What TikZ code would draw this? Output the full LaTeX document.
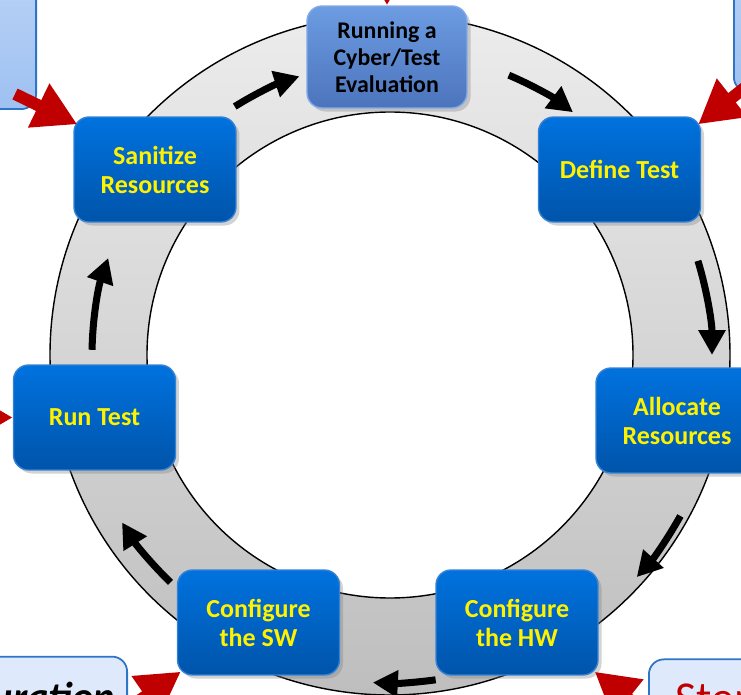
\documentclass[tikz,border=0pt]{standalone}
\usepackage{fontspec}
\setmainfont{Carlito}
\usetikzlibrary{arrows.meta,shadows}
\definecolor{boxBlue}{RGB}{0,114,222}
\definecolor{boxBlueDark}{RGB}{0,84,170}
\definecolor{boxEdge}{RGB}{52,130,214}
\definecolor{topBlue}{RGB}{108,156,226}
\definecolor{topBlueDark}{RGB}{76,116,188}
\definecolor{topEdge}{RGB}{130,170,232}
\definecolor{ringLight}{RGB}{236,236,236}
\definecolor{ringDark}{RGB}{190,190,190}
\definecolor{arrowRed}{RGB}{192,0,0}
\definecolor{paleBlue}{RGB}{222,233,251}
\definecolor{skyBlue}{RGB}{204,221,249}
\definecolor{skyBlueDark}{RGB}{158,193,241}
\definecolor{paleEdge}{RGB}{46,117,200}

\begin{document}
\begin{tikzpicture}[x=0.02cm,y=0.02cm,
  stagebox/.style={draw=boxEdge,line width=0.8pt,rounded corners=0.3cm,top color=boxBlue,bottom color=boxBlueDark,
    minimum width=3.24cm,minimum height=2.1cm,align=center,text=yellow,font=\bfseries\fontsize{14.8}{16.5}\selectfont,
    drop shadow={opacity=0.35,shadow xshift=2pt,shadow yshift=-2pt}},
  sidebox/.style={draw=paleEdge,line width=1pt,rounded corners=0.3cm},
  cyclearrow/.style={line width=4pt,-{Triangle[length=0.5cm,width=0.52cm]}},
  feedarrow/.style={draw=arrowRed,line width=0.24cm,-{Triangle[length=0.86cm,width=0.92cm]}}]

\useasboundingbox (0,0) rectangle (741,694);

\def\rOuter{340}
\def\rInner{243}
\coordinate (ring) at (390,339);

% ring:
\path[draw,line width=0.8pt,top color=ringLight,bottom color=ringDark,even odd rule] (ring) circle (\rOuter) (ring) circle (\rInner);

% arrows round the ring:
\draw[cyclearrow] ([shift={(179:298)}]ring) arc (179:161:298);
\draw[cyclearrow] ([shift={(122:293)}]ring) arc (122:108:293);
\draw[cyclearrow] ([shift={(67:304)}]ring) arc (67:53:304);
\draw[cyclearrow] ([shift={(17:322)}]ring) arc (17:0:322);
\draw[cyclearrow] ([shift={(-29:332)}]ring) arc (-29:-42:332);
\draw[cyclearrow] ([shift={(-82:328)}]ring) arc (-82:-93:328);
\draw[cyclearrow] ([shift={(-134:316)}]ring) arc (-134:-148:316);

% stages:
\node[stagebox,top color=topBlue,bottom color=topBlueDark,draw=topEdge,text=black,minimum width=3.2cm,minimum height=2.04cm,
  font=\bfseries\fontsize{13.6}{15.3}\selectfont] (running) at (387,637) {Running a\\Cyber/Test\\Evaluation};
\node[stagebox] (define) at (619.5,524.5) {Define Test};
\node[stagebox] (allocate) at (677,273.5) {Allocate\\Resources};
\node[stagebox] (hw) at (517,71.5) {Configure\\the HW};
\node[stagebox] (sw) at (258.5,71.5) {Configure\\the SW};
\node[stagebox] (run) at (94.5,276.5) {Run Test};
\node[stagebox] (sanitize) at (155,524.5) {Sanitize\\Resources};

% boxes round the cycle:
\node[sidebox,top color=skyBlue,bottom color=skyBlueDark,anchor=south east,minimum width=3.4cm,minimum height=4.6cm] (tl) at (37,584) {};
\node[sidebox,top color=skyBlue,bottom color=skyBlueDark,anchor=south west,minimum width=3.4cm,minimum height=4.6cm] (tr) at (733,601) {};
\node[sidebox,fill=paleBlue,anchor=base east,inner xsep=0.24cm,inner ysep=0.5cm,
  font=\bfseries\itshape\fontsize{23}{27}\selectfont] (config) at (128,-16) {uration};
\node[sidebox,fill=paleBlue,anchor=base west,inner xsep=0.54cm,inner ysep=0.48cm,text=arrowRed,
  font=\fontsize{26}{30}\selectfont] (steps) at (648,-19) {Step};
\coordinate (above) at (387,770);
\coordinate (left) at (-70,276.5);

% red arrows:
\draw[feedarrow] ([shift={(-22,16)}]tl.south east) -- ([shift={(4,-8)}]sanitize.north west);
\draw[feedarrow] ([shift={(19,11)}]tr.south west) -- ([shift={(-3,-8)}]define.north east);
\draw[feedarrow] (above) -- (running.north);
\draw[feedarrow] (left) -- (run.west);
\draw[feedarrow] ([shift={(-25,-70)}]config.north east) -- ([shift={(4,4)}]sw.south west);
\draw[feedarrow] ([shift={(30,-80)}]steps.north west) -- ([shift={(-4,4)}]hw.south east);

\end{tikzpicture}
\end{document}
